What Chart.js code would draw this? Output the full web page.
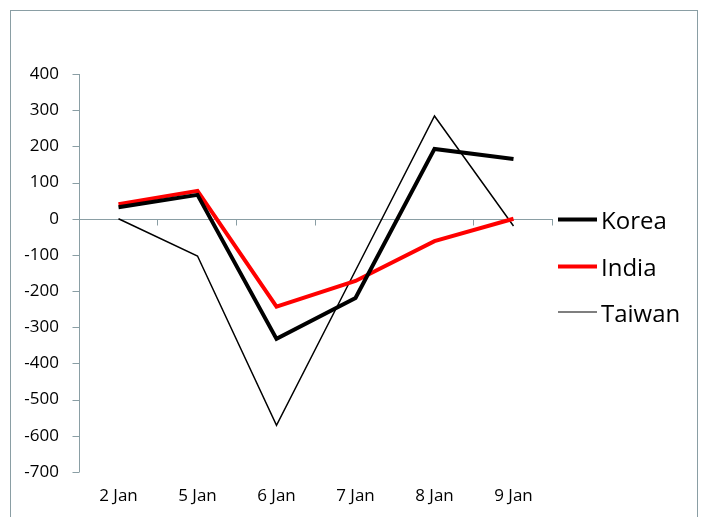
<!DOCTYPE html>
<html>
<head>
<meta charset="utf-8">
<script src="https://cdn.jsdelivr.net/npm/chart.js@4"></script>
<style>
  html, body { margin:0; padding:0; background:#fff; overflow:hidden; }
  .frame { position:absolute; left:10px; top:10px; width:686px; height:530px; border:1px solid #8a9ea4; }
  .wrap { position:absolute; left:0; top:0; width:705px; height:517px; }
  .legend { position:absolute; left:558px; top:0; font-family:'Open Sans', sans-serif; font-size:24px; color:#000; }
  .legend .item { position:absolute; left:0; display:flex; align-items:center; white-space:nowrap; transform:translateY(-50%); }
  .legend .swatch { width:39px; margin-right:4px; }
</style>
</head>
<body>
<div class="frame"></div>
<div class="wrap"><canvas id="chart" width="705" height="517"></canvas></div>
<div class="legend" id="legend"></div>
<script>
// ── data ─────────────────────────────────────────────────────────────────
const categories = ['2 Jan', '5 Jan', '6 Jan', '7 Jan', '8 Jan', '9 Jan'];
const korea  = [32, 66, -332, -219, 193, 165];
const india  = [40, 77, -243, -172, -62, 0];
const taiwan = [0, -103, -571, -143, 284, -20];
const yTicks = { min: -700, max: 400, step: 100 };

const series = [
  { label:'Korea',  data:korea,  color:'#000000', width:4 },
  { label:'India',  data:india,  color:'#ff0000', width:4 },
  { label:'Taiwan', data:taiwan, color:'#000000', width:1.5 },
];
const AXIS = '#8a9ea4';
const FONT = "'Open Sans', sans-serif";

// zero-line axis with tick marks between categories (Excel style),
// plus the y tick marks on the outside of the value axis
const axisMarks = {
  id: 'axisMarks',
  beforeDatasetsDraw(chart) {
    const { ctx, chartArea, scales: { x, y } } = chart;
    const y0 = Math.round(y.getPixelForValue(0)) + 0.5;
    const yl = Math.round(chartArea.left) + 0.5;
    ctx.save();
    ctx.strokeStyle = AXIS; ctx.lineWidth = 1;
    ctx.beginPath();
    ctx.moveTo(chartArea.left, y0); ctx.lineTo(chartArea.right, y0);
    for (let i = 1; i <= categories.length; i++) {
      const px = i < categories.length
        ? (x.getPixelForValue(i - 1) + x.getPixelForValue(i)) / 2
        : chartArea.right;
      const xx = Math.round(px) - 0.5;
      ctx.moveTo(xx, y0); ctx.lineTo(xx, y0 + 6);
    }
    y.ticks.forEach(t => {
      const py = Math.round(y.getPixelForValue(t.value)) + 0.5;
      ctx.moveTo(yl - 7, py); ctx.lineTo(yl, py);
    });
    ctx.moveTo(yl, chartArea.top); ctx.lineTo(yl, chartArea.bottom);
    ctx.stroke();
    ctx.restore();
  },
};

new Chart(document.getElementById('chart'), {
  type: 'line',
  data: {
    labels: categories,
    datasets: series.map(s => ({
      label: s.label, data: s.data,
      borderColor: s.color, backgroundColor: s.color,
      borderWidth: s.width, pointRadius: 0, tension: 0,
      borderJoinStyle: 'miter', borderCapStyle: 'butt',
    })),
  },
  options: {
    responsive: false, animation: false,
    layout: { padding: { top: 74, right: 152, bottom: 0, left: 0 } },
    plugins: { legend: { display: false }, tooltip: { enabled: false } },
    scales: {
      x: {
        offset: true,
        grid: { display: false, drawTicks: false },
        border: { display: false },
        ticks: { color: '#000', font: { family: FONT, size: 17 }, padding: 14, maxRotation: 0 },
        afterFit: s => { s.height = 45; },
      },
      y: {
        min: yTicks.min, max: yTicks.max,
        ticks: { stepSize: yTicks.step, color: '#000', font: { family: FONT, size: 17 }, padding: 12 },
        grid: { display: false },
        border: { display: false },
        afterFit: s => { s.width = 79; },
      },
    },
  },
  plugins: [axisMarks],
});

// legend
const legendY = [219, 266, 312];
const legend = document.getElementById('legend');
series.forEach((s, i) => {
  const item = document.createElement('div');
  item.className = 'item';
  item.style.top = legendY[i] + 'px';
  item.innerHTML = `<div class="swatch" style="height:${s.width}px;background:${s.color};"></div><span>${s.label}</span>`;
  legend.appendChild(item);
});
</script>
</body>
</html>
